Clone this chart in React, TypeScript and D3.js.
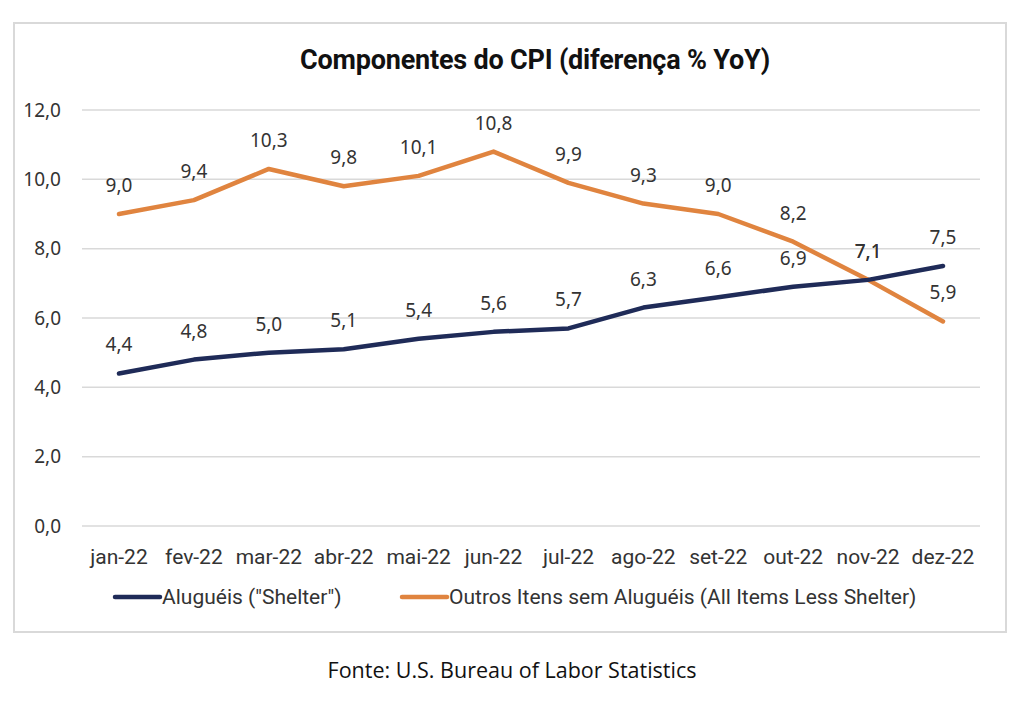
import * as d3 from "d3";
import { useEffect, useRef } from "react";

const months = [
  "jan-22", "fev-22", "mar-22", "abr-22", "mai-22", "jun-22",
  "jul-22", "ago-22", "set-22", "out-22", "nov-22", "dez-22",
];
const shelter = [4.4, 4.8, 5.0, 5.1, 5.4, 5.6, 5.7, 6.3, 6.6, 6.9, 7.1, 7.5];
const lessShelter = [9.0, 9.4, 10.3, 9.8, 10.1, 10.8, 9.9, 9.3, 9.0, 8.2, 7.1, 5.9];
const yTicks = [0, 2, 4, 6, 8, 10, 12];
const seriesNames = ["Aluguéis (\"Shelter\")", "Outros Itens sem Aluguéis (All Items Less Shelter)"];

const NAVY = "#1f2b58";
const ORANGE = "#e0843f";
const fmt = (v: number) => v.toFixed(1).replace(".", ",");

function App() {
  const ref = useRef<SVGSVGElement>(null);

  useEffect(() => {
    const svg = d3.select(ref.current);
    svg.selectAll("*").remove();

    // outer chart frame
    svg
      .append("rect")
      .attr("x", 14)
      .attr("y", 23)
      .attr("width", 992)
      .attr("height", 609)
      .attr("fill", "white")
      .attr("stroke", "#d9d9d9")
      .attr("stroke-width", 2);

    svg
      .append("text")
      .attr("x", 535)
      .attr("y", 69)
      .attr("text-anchor", "middle")
      .style("font-family", "Roboto, sans-serif")
      .style("font-weight", "bold")
      .style("font-size", "27px")
      .style("letter-spacing", "-0.2px")
      .style("fill", "#111")
      .text("Componentes do CPI (diferença % YoY)");

    const x = d3.scalePoint().domain(months).range([119, 943]);
    const y = d3.scaleLinear().domain([0, 12]).range([526, 110]);

    // gridlines + y labels
    const grid = svg.append("g");
    grid
      .selectAll("line")
      .data(yTicks)
      .join("line")
      .attr("x1", 82)
      .attr("x2", 980)
      .attr("y1", (d) => y(d))
      .attr("y2", (d) => y(d))
      .attr("stroke", "#d9d9d9")
      .attr("stroke-width", 1.5);
    grid
      .selectAll("text")
      .data(yTicks)
      .join("text")
      .attr("x", 61)
      .attr("y", (d) => y(d))
      .attr("dy", "0.35em")
      .attr("text-anchor", "end")
      .style("font-family", "'Noto Sans', sans-serif")
      .style("font-size", "19px")
      .style("fill", "#333")
      .text((d) => fmt(d));

    // x labels
    svg
      .append("g")
      .selectAll("text")
      .data(months)
      .join("text")
      .attr("x", (d) => x(d)!)
      .attr("y", 564)
      .attr("text-anchor", "middle")
      .style("font-family", "Roboto, sans-serif")
      .style("font-size", "21px")
      .style("fill", "#333")
      .text((d) => d);

    const line = d3
      .line<number>()
      .x((_, i) => x(months[i])!)
      .y((d) => y(d));

    const series = [
      { values: lessShelter, color: ORANGE },
      { values: shelter, color: NAVY },
    ];

    series.forEach((s) => {
      svg
        .append("path")
        .datum(s.values)
        .attr("d", line)
        .attr("fill", "none")
        .attr("stroke", s.color)
        .attr("stroke-width", 4.5)
        .attr("stroke-linecap", "round")
        .attr("stroke-linejoin", "round");
    });

    // data labels above each point
    series.forEach((s) => {
      svg
        .append("g")
        .selectAll("text")
        .data(s.values)
        .join("text")
        .attr("x", (_, i) => x(months[i])!)
        .attr("y", (d) => y(d) - 22)
        .attr("text-anchor", "middle")
        .style("font-family", "'Noto Sans', sans-serif")
        .style("font-size", "19px")
        .style("fill", "#333")
        .text((d) => fmt(d));
    });

    // legend
    const legend = svg.append("g").attr("transform", "translate(0,597)");
    const legendItems = [
      { name: seriesNames[0], color: NAVY, x: 115 },
      { name: seriesNames[1], color: ORANGE, x: 402 },
    ];
    legendItems.forEach((d) => {
      legend
        .append("line")
        .attr("x1", d.x)
        .attr("x2", d.x + 45)
        .attr("y1", 0)
        .attr("y2", 0)
        .attr("stroke", d.color)
        .attr("stroke-width", 4.5)
        .attr("stroke-linecap", "round");
      legend
        .append("text")
        .attr("x", d.x + 47)
        .attr("y", 0)
        .attr("dy", "0.35em")
        .style("font-family", "Roboto, sans-serif")
        .style("font-size", "21px")
        .style("fill", "#333")
        .text(d.name);
    });

    svg
      .append("text")
      .attr("x", 512)
      .attr("y", 678)
      .attr("text-anchor", "middle")
      .style("font-family", "'Open Sans', sans-serif")
      .style("font-size", "21.5px")
      .style("fill", "#111")
      .text("Fonte: U.S. Bureau of Labor Statistics");
  }, []);

  return (
    <svg
      ref={ref}
      width={1024}
      height={701}
      style={{ position: "absolute", left: 0, top: 0, background: "white" }}
    />
  );
}

export default App;
